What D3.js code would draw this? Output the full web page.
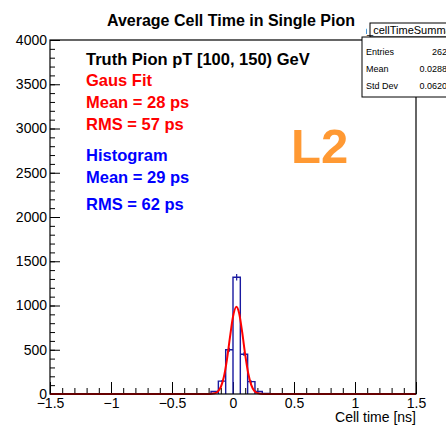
<!DOCTYPE html>
<html>
<head>
<meta charset="utf-8">
<script src="https://cdn.jsdelivr.net/npm/d3@7"></script>
<style>
  body { margin: 0; background: #fff; }
  text { font-family: "Liberation Sans", Arial, sans-serif; }
</style>
</head>
<body>
<svg width="446" height="425"></svg>
<script>
// histogram: lower bin edges (ns) and counts, bin width 0.06 ns
var binWidth = 0.06;
var binLow = [-0.24, -0.18, -0.12, -0.06, 0.0, 0.06, 0.12, 0.18, 0.24];
var binCount = [3, 28, 145, 500, 1320, 450, 140, 28, 6];

// gaus fit curve
var fitX = [-1.5, -0.25, -0.2, -0.15, -0.125, -0.1, -0.075, -0.05, -0.025, 0.0, 0.028, 0.05, 0.075, 0.1, 0.125, 0.15, 0.175, 0.2, 0.25, 0.3, 1.5];
var fitY = [0, 0, 0.3, 7.5, 27, 79, 192, 386, 639, 873, 985, 914, 701, 444, 231, 100, 35, 10, 0.5, 0, 0];

var xTicks = [-1.5, -1, -0.5, 0, 0.5, 1, 1.5];
var yTicks = [0, 500, 1000, 1500, 2000, 2500, 3000, 3500, 4000];

var infoLines = [
  {t: "Truth Pion pT [100, 150) GeV", c: "#000000", y: 65},
  {t: "Gaus Fit", c: "#ff0000", y: 86},
  {t: "Mean = 28 ps", c: "#ff0000", y: 108},
  {t: "RMS = 57 ps", c: "#ff0000", y: 130},
  {t: "Histogram", c: "#0000ff", y: 161},
  {t: "Mean = 29 ps", c: "#0000ff", y: 183},
  {t: "RMS = 62 ps", c: "#0000ff", y: 210}
];
var statsRows = [["Entries", "2620"], ["Mean", "0.02889"], ["Std Dev", "0.06206"]];

var svg = d3.select("svg"),
    frame = {left: 50, right: 416, top: 40, bottom: 394};

var x = d3.scaleLinear().domain([-1.5, 1.5]).range([frame.left, frame.right]);
var y = d3.scaleLinear().domain([0, 4000]).range([frame.bottom, frame.top]);

// title
svg.append("text")
    .attr("x", 231).attr("y", 26)
    .attr("text-anchor", "middle")
    .style("font-size", "16px").style("font-weight", "bold")
    .text("Average Cell Time in Single Pion");

// axes (ticks drawn inward like ROOT)
var fmt = d3.format("~g");
var xMinor = d3.range(-15, 16).map(function(i){ return i / 10; });
var yMinor = d3.range(0, 41).map(function(i){ return i * 100; });

svg.append("g")
    .attr("transform", "translate(0," + frame.bottom + ")")
    .call(d3.axisBottom(x).tickValues(xMinor).tickSize(-6).tickFormat(""))
    .call(function(g){ g.select(".domain").remove(); });
svg.append("g")
    .attr("transform", "translate(0," + frame.bottom + ")")
    .call(d3.axisBottom(x).tickValues(xTicks).tickSize(-12).tickPadding(4).tickFormat(fmt))
    .call(function(g){
      g.select(".domain").remove();
      g.selectAll("text").style("font-size", "14px").attr("fill", "#000");
    });

svg.append("g")
    .attr("transform", "translate(" + frame.left + ",0)")
    .call(d3.axisLeft(y).tickValues(yMinor).tickSize(-5).tickFormat(""))
    .call(function(g){ g.select(".domain").remove(); });
svg.append("g")
    .attr("transform", "translate(" + frame.left + ",0)")
    .call(d3.axisLeft(y).tickValues(yTicks).tickSize(-10).tickPadding(3).tickFormat(fmt))
    .call(function(g){
      g.select(".domain").remove();
      g.selectAll("text").style("font-size", "14px").attr("fill", "#000");
    });

svg.append("text")
    .attr("x", frame.right).attr("y", 422)
    .attr("text-anchor", "end")
    .style("font-size", "14px")
    .text("Cell time [ns]");

// histogram as a step outline over the full range
var steps = [[-1.5, 0]];
binLow.forEach(function(lo, i){
  steps.push([lo, 0], [lo, binCount[i]], [lo + binWidth, binCount[i]], [lo + binWidth, 0]);
});
steps.push([1.5, 0]);

svg.append("path")
    .datum(steps)
    .attr("fill", "none")
    .attr("stroke", "#1a1aa0")
    .attr("stroke-width", 1.4)
    .attr("d", d3.line().x(function(d){ return x(d[0]); }).y(function(d){ return y(d[1]); }));

// statistical error bars at bin centres
svg.append("g").selectAll("line")
  .data(binLow)
  .enter().append("line")
    .attr("x1", function(d){ return x(d + binWidth / 2); })
    .attr("x2", function(d){ return x(d + binWidth / 2); })
    .attr("y1", function(d, i){ return y(binCount[i] + Math.sqrt(binCount[i])); })
    .attr("y2", function(d, i){ return y(Math.max(0, binCount[i] - Math.sqrt(binCount[i]))); })
    .attr("stroke", "#1a1aa0")
    .attr("stroke-width", 1.2);

// gaus fit
svg.append("path")
    .datum(fitX.map(function(v, i){ return [v, fitY[i]]; }))
    .attr("fill", "none")
    .attr("stroke", "#ff0000")
    .attr("stroke-width", 2)
    .attr("d", d3.line().curve(d3.curveMonotoneX)
        .x(function(d){ return x(d[0]); }).y(function(d){ return y(d[1]); }));

// frame
svg.append("rect")
    .attr("x", frame.left).attr("y", frame.top)
    .attr("width", frame.right - frame.left).attr("height", frame.bottom - frame.top)
    .attr("fill", "none").attr("stroke", "#000").attr("stroke-width", 1.2);

// text block
svg.append("g").selectAll("text")
  .data(infoLines)
  .enter().append("text")
    .attr("x", 86).attr("y", function(d){ return d.y; })
    .attr("fill", function(d){ return d.c; })
    .style("font-size", "16.5px").style("font-weight", "bold")
    .text(function(d){ return d.t; });

svg.append("text")
    .attr("x", 291).attr("y", 163)
    .attr("fill", "#ff9933")
    .style("font-size", "49px").style("font-weight", "bold")
    .text("L2");

// stats box (cut at the right edge)
svg.append("defs").append("clipPath").attr("id", "hclip")
  .append("rect").attr("x", 366).attr("y", 20).attr("width", 80).attr("height", 20);

svg.append("rect")
    .attr("x", 370).attr("y", 23).attr("width", 90).attr("height", 14)
    .attr("fill", "#fff").attr("stroke", "#000").attr("stroke-width", 1);
svg.append("text")
    .attr("clip-path", "url(#hclip)")
    .attr("x", 361).attr("y", 34)
    .attr("fill", "#000")
    .style("font-size", "11px")
    .text("h_cellTimeSummary");

svg.append("rect")
    .attr("x", 362).attr("y", 37).attr("width", 96).attr("height", 60)
    .attr("fill", "#fff").attr("stroke", "#000").attr("stroke-width", 1);

var rows = svg.append("g").selectAll("g")
  .data(statsRows)
  .enter().append("g");
rows.append("text")
    .attr("x", 366).attr("y", function(d, i){ return 55 + i * 17; })
    .style("font-size", "9px")
    .text(function(d){ return d[0]; });
rows.append("text")
    .attr("x", 452).attr("y", function(d, i){ return 55 + i * 17; })
    .attr("text-anchor", "end")
    .style("font-size", "9px")
    .text(function(d){ return d[1]; });
</script>
</body>
</html>
